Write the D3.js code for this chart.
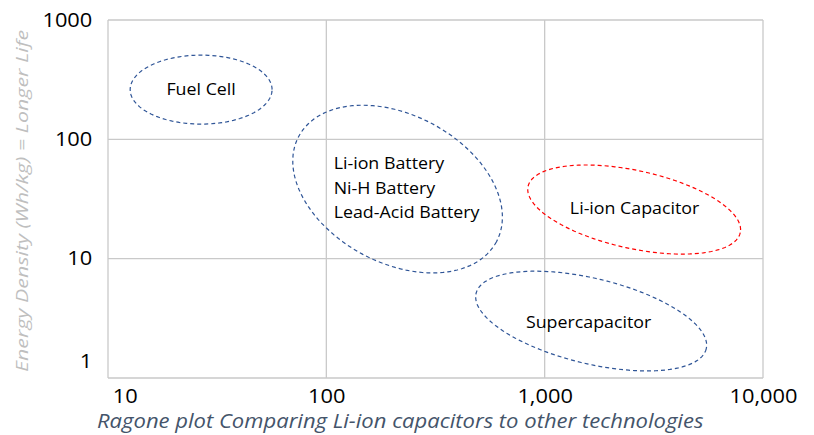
<!DOCTYPE html>
<html lang="en">
<head>
    <meta charset="utf-8">
    <title>Ragone plot</title>
    <script type="text/javascript" src="https://d3js.org/d3.v7.min.js"></script>
    <style type="text/css">
        body { margin: 0; background: #fff; }
        text { font-family: "Open Sans", "Liberation Sans", sans-serif; }
    </style>
</head>
<body>
<svg width="814" height="435"></svg>
<script type="text/javascript">

    // axis ticks
    const xTicks = [10, 100, 1000, 10000];
    const yTicks = [1, 10, 100, 1000];

    // technology regions: centre (W/kg, Wh/kg) and semi axes in decades (log10 units)
    const regionNames  = ["Fuel Cell", "Battery", "Li-ion Capacitor", "Supercapacitor"];
    const regionCenter = [[26.7, 261], [212, 38.3], [2570, 25.8], [1633, 3.0]];
    const regionMajor  = [[0.325, 0], [0.453, -0.441], [0.486, -0.194], [0.527, -0.233]];
    const regionMinor  = [[0, 0.289], [-0.159, -0.547], [-0.038, -0.319], [-0.046, -0.347]];
    const regionColor  = ["#2f5597", "#2f5597", "#ff0000", "#2f5597"];

    // labels: anchor point (W/kg, Wh/kg) and text lines
    const labelAt    = [[26.7, 235], [108, 56.4], [2582, 23.7], [1589, 2.62]];
    const labelLines = [["Fuel Cell"], ["Li-ion Battery", "Ni-H Battery", "Lead-Acid Battery"], ["Li-ion Capacitor"], ["Supercapacitor"]];
    const labelAnchor = ["middle", "start", "middle", "middle"];

    const svg = d3.select("svg");
    const width = 814, height = 435;
    const margin = {top: 20, right: 51, bottom: 57, left: 108};

    const x = d3.scaleLog().domain([10, 10000]).range([margin.left, width - margin.right]);
    const y = d3.scaleLog().domain([1, 1000]).range([height - margin.bottom, margin.top]);

    const grid = "#c9c9c9";
    const stretch = 1.12; // text in the original is a bit wider than any font here

    // gridlines
    svg.append("g").selectAll("line").data(xTicks).join("line")
        .attr("x1", d => x(d)).attr("x2", d => x(d))
        .attr("y1", y(1)).attr("y2", y(1000))
        .attr("stroke", grid).attr("stroke-width", 1.3);
    svg.append("g").selectAll("line").data(yTicks).join("line")
        .attr("x1", x(10)).attr("x2", x(10000))
        .attr("y1", d => y(d)).attr("y2", d => y(d))
        .attr("stroke", grid).attr("stroke-width", 1.3);

    // axes (labels only)
    const xAxis = svg.append("g")
        .attr("transform", `translate(0,${y(1)})`)
        .call(d3.axisBottom(x).tickValues(xTicks).tickFormat(d3.format(",")).tickSize(0).tickPadding(11));
    const yAxis = svg.append("g")
        .attr("transform", `translate(${x(10)},0)`)
        .call(d3.axisLeft(y).tickValues(yTicks).tickFormat(d3.format("d")).tickSize(0).tickPadding(14));
    [xAxis, yAxis].forEach(a => {
        a.select(".domain").remove();
        a.selectAll("text").attr("fill", "#000").style("font-size", "19.5px")
            .style("font-family", "'Open Sans', 'Liberation Sans', sans-serif")
            .attr("transform", `scale(${stretch},1)`);
    });
    xAxis.selectAll("text").attr("dy", "0.71em").filter(d => d === 10).attr("dx", 15);
    // the lowest y label sits above the bottom edge, like in the original
    yAxis.selectAll("text").filter(d => d === 1).attr("y", -17);

    // ellipses drawn in log space
    const line = d3.line().x(p => p[0]).y(p => p[1]);
    const ellipsePts = i => d3.range(0, 361, 3).map(a => {
        const t = a * Math.PI / 180;
        const lx = Math.log10(regionCenter[i][0]) + Math.cos(t) * regionMajor[i][0] + Math.sin(t) * regionMinor[i][0];
        const ly = Math.log10(regionCenter[i][1]) + Math.cos(t) * regionMajor[i][1] + Math.sin(t) * regionMinor[i][1];
        return [x(Math.pow(10, lx)), y(Math.pow(10, ly))];
    });

    svg.append("g").selectAll("path").data(regionNames).join("path")
        .attr("d", (d, i) => line(ellipsePts(i)) + "Z")
        .attr("fill", "none")
        .attr("stroke", (d, i) => regionColor[i])
        .attr("stroke-width", 1.2)
        .attr("stroke-dasharray", "4,3");

    // region labels
    const labels = svg.append("g").selectAll("text").data(regionNames).join("text")
        .attr("transform", (d, i) => `translate(${x(labelAt[i][0])},${y(labelAt[i][1])}) scale(1.08,1)`)
        .attr("text-anchor", (d, i) => labelAnchor[i])
        .style("font-size", "16.5px")
        .attr("fill", "#000");
    labels.each(function(d, i) {
        const t = d3.select(this);
        labelLines[i].forEach((s, j) => {
            t.append("tspan").attr("x", 0).attr("dy", j === 0 ? 0 : 24.5).text(s);
        });
    });

    // axis titles
    svg.append("text")
        .attr("transform", `translate(28,${(y(1) + y(1000)) / 2 + 2}) rotate(-90) scale(1.26,1)`)
        .attr("text-anchor", "middle")
        .style("font-size", "17px").style("font-style", "italic")
        .attr("fill", "#bfbfbf")
        .text("Energy Density (Wh/kg) = Longer Life");

    svg.append("text")
        .attr("transform", `translate(97,428) scale(1.13,1)`)
        .style("font-size", "19.5px").style("font-style", "italic")
        .attr("fill", "#44546a")
        .text("Ragone plot Comparing Li-ion capacitors to other technologies");

</script>
</body>
</html>
